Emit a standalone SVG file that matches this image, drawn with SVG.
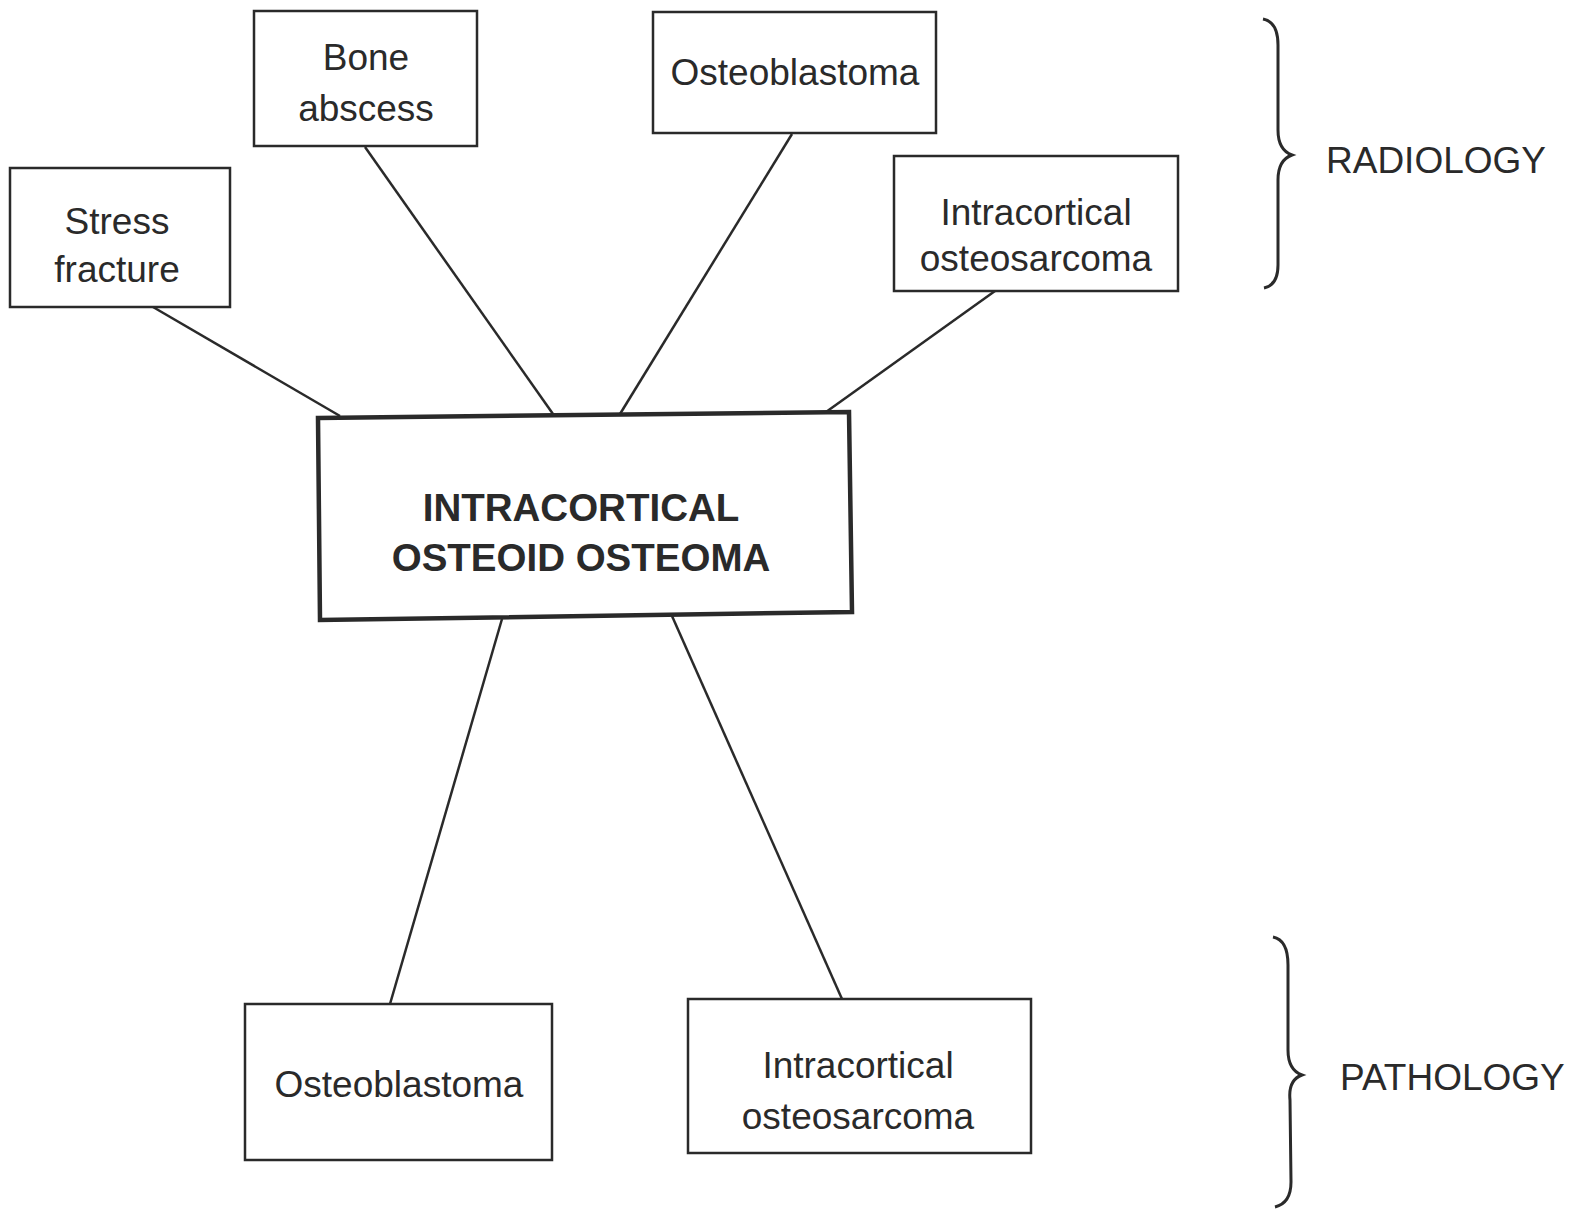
<svg xmlns="http://www.w3.org/2000/svg" width="1570" height="1212" viewBox="0 0 1570 1212">
<style>
.box{fill:#fff;stroke:#2a2a2a;stroke-width:2.5}
.main{fill:#fff;stroke:#2a2a2a;stroke-width:4.5}
.t{font-family:"Liberation Sans",Arial,sans-serif;font-size:37px;fill:#2a2a2a;text-anchor:middle}
.b{font-weight:bold;font-size:38.5px}
.lbl{text-anchor:start}
.c{stroke:#2a2a2a;stroke-width:2.5;fill:none}
.br{stroke:#2a2a2a;stroke-width:3;fill:none}
</style>
<rect width="1570" height="1212" fill="#fff"/>
<g id="connectors">
<line class="c" x1="153" y1="307" x2="340" y2="416"/>
<line class="c" x1="365" y1="147" x2="553" y2="414"/>
<line class="c" x1="792" y1="134" x2="620" y2="414"/>
<line class="c" x1="995" y1="291" x2="826" y2="412"/>
<line class="c" x1="502" y1="619" x2="390" y2="1004"/>
<line class="c" x1="672" y1="616" x2="842" y2="999"/>
</g>
<g id="stress-fracture">
<rect class="box" x="10" y="168" width="220" height="139"/>
<text class="t" x="117" y="234">Stress</text>
<text class="t" x="117" y="282">fracture</text>
</g>
<g id="bone-abscess">
<rect class="box" x="254" y="11" width="223" height="135"/>
<text class="t" x="366" y="70">Bone</text>
<text class="t" x="366" y="121">abscess</text>
</g>
<g id="osteoblastoma-top">
<rect class="box" x="653" y="12" width="283" height="121"/>
<text class="t" x="795" y="85">Osteoblastoma</text>
</g>
<g id="intracortical-osteosarcoma-top">
<rect class="box" x="894" y="156" width="284" height="135"/>
<text class="t" x="1036" y="225">Intracortical</text>
<text class="t" x="1036" y="271">osteosarcoma</text>
</g>
<g id="main">
<polygon class="main" points="318,418 849,412 852,612 320,620"/>
<text class="t b" x="581" y="521">INTRACORTICAL</text>
<text class="t b" x="581" y="571">OSTEOID OSTEOMA</text>
</g>
<g id="osteoblastoma-bottom">
<rect class="box" x="245" y="1004" width="307" height="156"/>
<text class="t" x="399" y="1097">Osteoblastoma</text>
</g>
<g id="intracortical-osteosarcoma-bottom">
<rect class="box" x="688" y="999" width="343" height="154"/>
<text class="t" x="858" y="1078">Intracortical</text>
<text class="t" x="858" y="1129">osteosarcoma</text>
</g>
<g id="radiology">
<path class="br" d="M1263,19 Q1278,22 1278,45 L1278,130 Q1278,150 1292,155 Q1278,160 1278,180 L1278,265 Q1278,285 1264,288"/>
<text class="t lbl" x="1326" y="173">RADIOLOGY</text>
</g>
<g id="pathology">
<path class="br" d="M1273,937 Q1288,940 1288,965 L1288,1050 Q1288,1070 1302,1075 Q1288,1080 1290,1100 L1291,1182 Q1291,1203 1275,1207"/>
<text class="t lbl" x="1340" y="1090">PATHOLOGY</text>
</g>
</svg>
